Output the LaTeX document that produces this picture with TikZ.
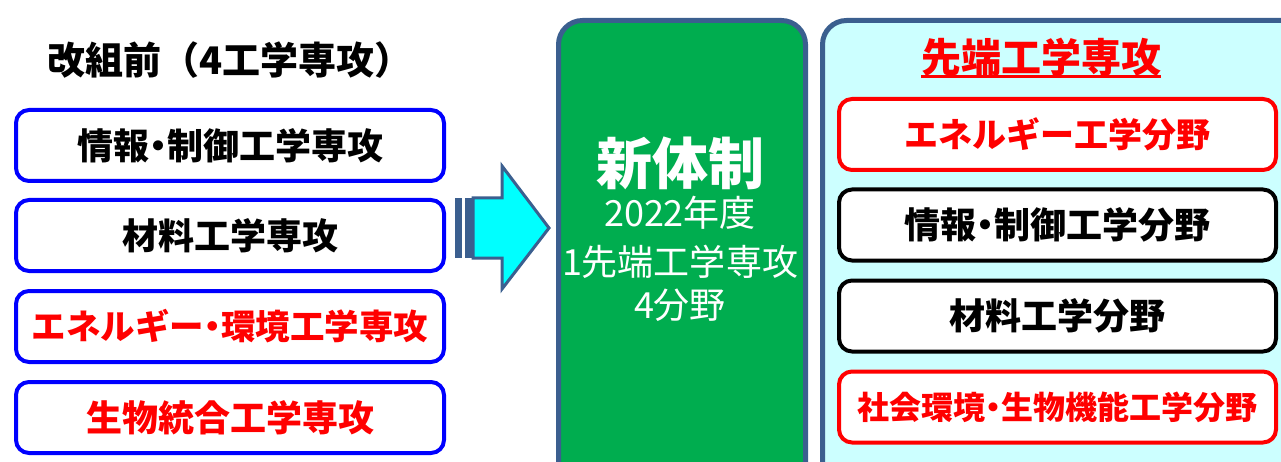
\documentclass[tikz,border=0pt]{standalone}
\usepackage{fontspec}
\setmainfont{Noto Sans CJK JP}
\definecolor{frameblue}{RGB}{59,95,143}
\definecolor{newgreen}{RGB}{0,173,79}
\definecolor{paleblue}{RGB}{204,255,255}
\definecolor{arrowcyan}{RGB}{0,255,255}
\newcommand{\nakaguro}{\kern-0.25em・\kern-0.25em}
\tikzset{
  oldbox/.style={draw=blue, line width=4pt, rounded corners=13pt, fill=white,
    minimum width=428pt, minimum height=71pt, font=\bfseries\fontsize{36}{40}\selectfont},
  fieldbox/.style={line width=4pt, rounded corners=13pt, fill=white,
    minimum width=437pt, minimum height=71pt, font=\bfseries\fontsize{36}{40}\selectfont},
  panel/.style={draw=frameblue, line width=5pt, rounded corners=24pt},
  newtext/.style={white, font=\fontsize{36}{40}\selectfont},
}
\begin{document}
\begin{tikzpicture}[x=1pt,y=-1pt]
    \useasboundingbox (0,0) rectangle (1281,462);
    \clip (0,0) rectangle (1281,462);
    \node (oldtitle) at (230,60) {\bfseries\fontsize{38}{42}\selectfont 改組前（4工学専攻）};
    \node[oldbox] (old1) at (230,145.5) {情報\nakaguro 制御工学専攻};
    \node[oldbox] (old2) at (230,235.5) {材料工学専攻};
    \node[oldbox, text=red, font=\bfseries\fontsize{34.5}{40}\selectfont] (old3) at (230,326.5) {エネルギー\nakaguro 環境工学専攻};
    \node[oldbox, text=red] (old4) at (230,417.5) {生物統合工学専攻};
    \fill[frameblue] (455,198) rectangle (462,258);
    \fill[frameblue] (465,198) rectangle (473,258);
    \filldraw[fill=arrowcyan, draw=frameblue, line width=3pt, line join=miter]
        (473,198) -- (502,198) -- (502,166) -- (549,228) -- (502,289) -- (502,258) -- (473,258) -- cycle;
    \filldraw[panel, fill=newgreen] (558.5,20.5) rectangle (805.5,520);
    \node[white, font=\bfseries\fontsize{56}{60}\selectfont] (newsys) at (680,163) {新体制};
    \node[newtext] (year) at (680,213) {2022年度};
    \node[newtext] (onemajor) at (680,262) {1先端工学専攻};
    \node[newtext] (fourfields) at (680,305) {4分野};
    \filldraw[panel, fill=paleblue] (822.5,20.5) rectangle (1320,520);
    \node[red, font=\bfseries\fontsize{40}{44}\selectfont] (newtitle) at (1041,57) {先端工学専攻};
    \draw[red, line width=3pt] (921,77) -- (1161,77);
    \node[fieldbox, draw=red, text=red, font=\bfseries\fontsize{34}{40}\selectfont] (field1) at (1057.5,134.5) {エネルギー工学分野};
    \node[fieldbox, draw=black] (field2) at (1057.5,225) {情報\nakaguro 制御工学分野};
    \node[fieldbox, draw=black] (field3) at (1057.5,316) {材料工学分野};
    \node[fieldbox, draw=red, text=red, font=\bfseries\fontsize{32}{36}\selectfont] (field4) at (1057.5,407) {社会環境\nakaguro 生物機能工学分野};
\end{tikzpicture}
\end{document}
